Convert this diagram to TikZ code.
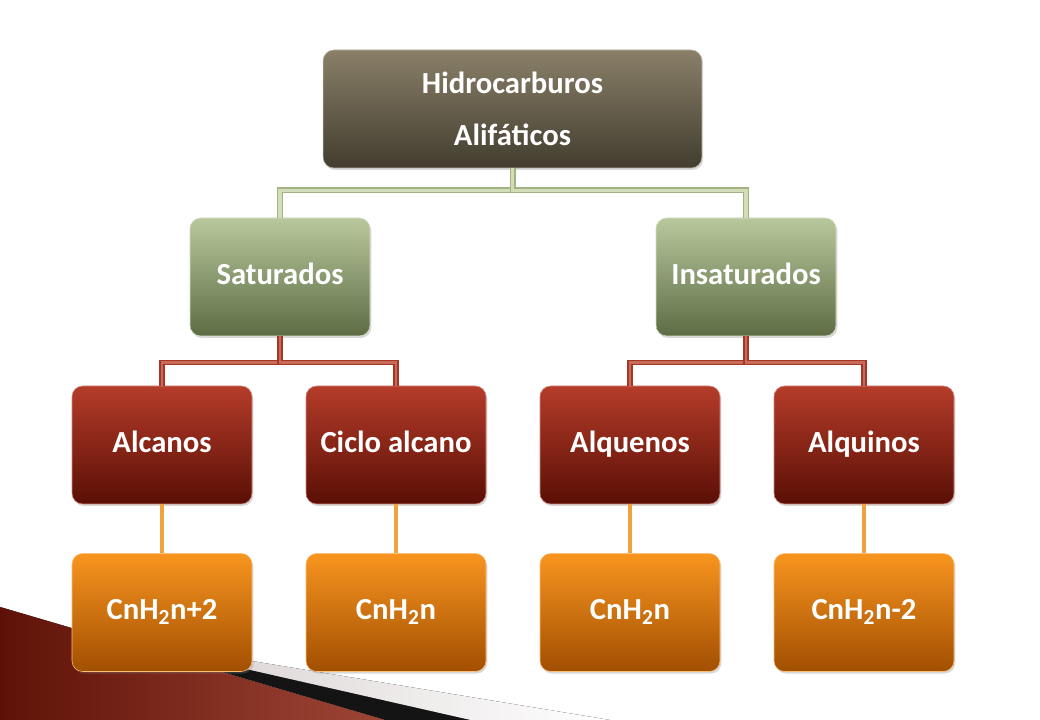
\documentclass[tikz,border=0pt]{standalone}
\usepackage{fontspec}
\setmainfont{Carlito}
\usetikzlibrary{shadows}

\definecolor{rootTop}{HTML}{8A8069}
\definecolor{rootBot}{HTML}{423D2F}
\definecolor{grnTop}{HTML}{B9C89C}
\definecolor{grnBot}{HTML}{5C6C44}
\definecolor{redTop}{HTML}{B53C2A}
\definecolor{redBot}{HTML}{5A0F05}
\definecolor{orgTop}{HTML}{F8951F}
\definecolor{orgBot}{HTML}{A24F02}
\definecolor{grnLink}{HTML}{D2DCB8}
\definecolor{grnEdge}{HTML}{A3B37F}
\definecolor{redLink}{HTML}{C86C5A}
\definecolor{redEdge}{HTML}{A53626}
\definecolor{orgLink}{HTML}{F0A23E}
\definecolor{wedgeDark}{HTML}{5E1207}
\definecolor{wedgeMid}{HTML}{9E4636}
\definecolor{stripGray}{HTML}{D3CACA}

\tikzset{
  box/.style={rounded corners=8pt, minimum width=135pt, minimum height=88.5pt,
    inner sep=0pt, align=center, text=white,
    font=\fontsize{23}{39}\selectfont\bfseries,
    drop shadow={shadow xshift=1pt, shadow yshift=-1.5pt, opacity=0.3}},
  onebox/.style={box, text height=16pt, text depth=5pt},
  rootbox/.style={box, minimum width=284pt, top color=rootTop, bottom color=rootBot, draw=rootTop!60!white},
  grnbox/.style={onebox, top color=grnTop, bottom color=grnBot, draw=grnTop!60!white},
  redbox/.style={onebox, top color=redTop, bottom color=redBot, draw=redTop!60!white},
  orgbox/.style={onebox, top color=orgTop, bottom color=orgBot, draw=orgTop!60!white},
  grnline/.style={draw=grnEdge, double=grnLink, line width=1pt, double distance=2.5pt},
  redline/.style={draw=redEdge, double=redLink, line width=1pt, double distance=2pt},
  orgline/.style={draw=orgLink, line width=3pt}
}

\begin{document}
\begin{tikzpicture}[x=0.75pt, y=-0.75pt]
  \useasboundingbox (0,0) rectangle (1040,720);
  \fill[white] (0,0) rectangle (1040,720);

  % corner decoration
  \fill[left color=stripGray, right color=white] (100,636) -- (610,720) -- (470,720) -- cycle;
  \fill[black!92] (100,636) -- (470,720) -- (385,720) -- cycle;
  \fill[left color=wedgeDark, right color=wedgeMid] (0,607) -- (385,720) -- (0,720) -- cycle;

  \node[rootbox] (hidro) at (512.5,109) {Hidrocarburos\\Alifáticos};

  \node[grnbox] (sat) at (280,277) {Saturados};
  \node[grnbox] (insat) at (746,277) {Insaturados};

  \node[redbox] (alcanos) at (162,445) {Alcanos};
  \node[redbox] (ciclo) at (396,445) {Ciclo alcano};
  \node[redbox] (alquenos) at (630,445) {Alquenos};
  \node[redbox] (alquinos) at (864,445) {Alquinos};

  \node[orgbox] (fAlcanos) at (162,612.5) {CnH\textsubscript{2}n+2};
  \node[orgbox] (fCiclo) at (396,612.5) {CnH\textsubscript{2}n};
  \node[orgbox] (fAlquenos) at (630,612.5) {CnH\textsubscript{2}n};
  \node[orgbox] (fAlquinos) at (864,612.5) {CnH\textsubscript{2}n-2};

  \draw[grnline] (hidro.south) -- ++(0,22) -| (sat.north);
  \draw[grnline] (hidro.south) -- ++(0,22) -| (insat.north);

  \draw[redline] (sat.south) -- ++(0,26) -| (alcanos.north);
  \draw[redline] (sat.south) -- ++(0,26) -| (ciclo.north);
  \draw[redline] (insat.south) -- ++(0,26) -| (alquenos.north);
  \draw[redline] (insat.south) -- ++(0,26) -| (alquinos.north);

  \draw[orgline] (alcanos) -- (fAlcanos);
  \draw[orgline] (ciclo) -- (fCiclo);
  \draw[orgline] (alquenos) -- (fAlquenos);
  \draw[orgline] (alquinos) -- (fAlquinos);
\end{tikzpicture}
\end{document}
